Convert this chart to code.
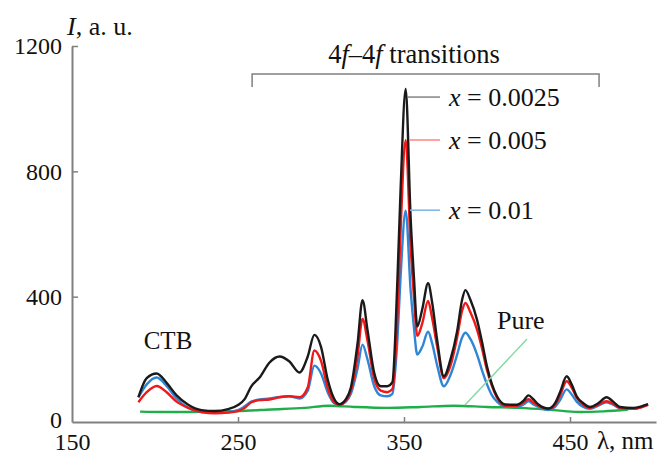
<!DOCTYPE html>
<html lang="en">
  <head>
    <meta charset="UTF-8" />
    <title>Luminescence excitation spectra</title>
    <script src="https://d3js.org/d3.v7.min.js"></script>
    <style>
      body {
        margin: 0;
        background: #fff;
      }
      svg text {
        font-family: "Liberation Serif", "Times New Roman", serif;
        fill: #111;
      }
    </style>
  </head>
  <body>
    <div id="chart"></div>
    <script>
      // wavelengths, nm (shared by the three doped samples)
      const wavelength = [
        190, 195, 201, 207, 213, 220, 228, 236, 244, 250, 254, 258, 263, 269,
        275, 281, 287, 292, 296, 300, 304, 308, 311, 315, 318, 322, 325, 328,
        332, 336, 340, 343, 346, 348, 351, 354, 356, 358, 361, 364.5, 367, 370,
        374, 378, 382, 385, 387, 390, 394, 397, 400, 403, 406, 411, 418, 422,
        425, 428, 431, 437, 441, 444, 448, 451, 454, 458, 462, 467, 472, 476,
        480, 488, 493, 497,
      ];
      const x0025 = [
        79, 140, 155, 125, 85, 55, 38, 35, 41, 54, 73, 114, 142, 190, 209, 193,
        158, 209, 278, 240, 136, 73, 57, 73, 110, 250, 389, 294, 158, 114, 114,
        127, 450, 750, 1063, 650, 460, 305, 360, 443, 380, 260, 146, 200, 290,
        390, 421, 390, 326, 255, 177, 120, 82, 56, 55, 68, 85, 72, 56, 43, 60,
        95, 146, 120, 82, 60, 48, 60, 79, 65, 48, 45, 50, 57,
      ];
      const x005 = [
        63, 95, 115, 95, 65, 45, 32, 28, 30, 35, 45, 63, 70, 72, 79, 82, 79, 110,
        228, 195, 110, 62, 55, 68, 100, 210, 329, 260, 140, 100, 95, 105, 330,
        620, 899, 560, 400, 275, 315, 386, 330, 240, 140, 180, 270, 355, 380,
        350, 295, 235, 165, 115, 78, 52, 52, 62, 73, 62, 52, 42, 55, 85, 130,
        110, 78, 55, 45, 55, 66, 58, 45, 42, 47, 55,
      ];
      const x01 = [
        79, 120, 142, 115, 75, 45, 32, 30, 32, 38, 50, 65, 72, 75, 80, 82, 75,
        100, 180, 155, 95, 60, 55, 65, 90, 170, 247, 200, 115, 85, 82, 90, 260,
        470, 674, 420, 300, 215, 240, 288, 250, 180, 114, 150, 215, 270, 285,
        265, 215, 165, 120, 85, 65, 50, 48, 56, 66, 56, 48, 38, 48, 70, 104, 88,
        65, 48, 42, 52, 63, 55, 44, 42, 48, 56,
      ];
      // undoped sample
      const pureWavelength = [
        191, 205, 220, 235, 250, 270, 290, 305, 320, 340, 360, 380, 400, 420,
        440, 455, 470, 485,
      ];
      const pure = [
        33, 32, 32, 33, 35, 40, 45, 52, 48, 45, 48, 52, 48, 45, 38, 32, 34, 40,
      ];
      const xTicks = [150, 250, 350, 450];
      const yTicks = [0, 400, 800, 1200];
      const legendLabels = ["0.0025", "0.005", "0.01"];
      // intensity level where each legend pointer sits
      const legendLevels = [1037, 900, 676];

      const width = 667,
        height = 454;
      const margin = { top: 46, right: 11, bottom: 32, left: 72 };
      const serif = '"Liberation Serif", "Times New Roman", serif';

      const svg = d3
        .select("#chart")
        .append("svg")
        .attr("width", width)
        .attr("height", height);

      const x = d3
        .scaleLinear()
        .domain([150, 501.8])
        .range([margin.left, width - margin.right]);
      const y = d3
        .scaleLinear()
        .domain([0, 1200])
        .range([height - margin.bottom, margin.top]);

      const axisColor = "#808080";

      // axes
      const gx = svg
        .append("g")
        .attr("transform", `translate(0,${y(0)})`)
        .call(
          d3
            .axisBottom(x)
            .tickValues(xTicks)
            .tickFormat(d3.format("d"))
            .tickSizeInner(-5)
            .tickSizeOuter(0)
            .tickPadding(11)
        );
      const gy = svg
        .append("g")
        .attr("transform", `translate(${x(150)},0)`)
        .call(
          d3
            .axisLeft(y)
            .tickValues(yTicks)
            .tickFormat(d3.format("d"))
            .tickSizeInner(-6)
            .tickSizeOuter(0)
            .tickPadding(10)
        );
      [gx, gy].forEach((g) => {
        g.attr("font-family", serif).attr("font-size", 24);
        g.select(".domain").attr("stroke", axisColor).attr("stroke-width", 2);
        g.selectAll(".tick line")
          .attr("stroke", axisColor)
          .attr("stroke-width", 1.5);
        g.selectAll(".tick text").attr("fill", "#111");
      });
      gy.select(".tick:first-of-type line").remove();
      gx.select(".tick:first-of-type line").remove();
      gy.select(".tick:first-of-type text").attr("dy", "0.22em");

      // spectra
      const line = (xs) =>
        d3
          .line()
          .x((d, i) => x(xs[i]))
          .y((d) => y(d))
          .curve(d3.curveMonotoneX);

      const series = [
        { values: pure, xs: pureWavelength, color: "#1fae4a" },
        { values: x01, xs: wavelength, color: "#2f86d6" },
        { values: x005, xs: wavelength, color: "#f01818" },
        { values: x0025, xs: wavelength, color: "#1a1a1a" },
      ];
      series.forEach((s) => {
        svg
          .append("path")
          .datum(s.values)
          .attr("fill", "none")
          .attr("stroke", s.color)
          .attr("stroke-width", 2.4)
          .attr("stroke-linejoin", "round")
          .attr("d", line(s.xs));
      });

      // legend pointers + labels
      const legendColors = ["#8c8c8c", "#ff8a8a", "#80b9e8"];
      const labelX = 449;
      legendLevels.forEach((lv, i) => {
        const py = y(lv);
        svg
          .append("line")
          .attr("x1", 408 + i * 1)
          .attr("x2", 440)
          .attr("y1", py)
          .attr("y2", py)
          .attr("stroke", legendColors[i])
          .attr("stroke-width", 1.6);
        const t = svg
          .append("text")
          .attr("x", labelX)
          .attr("y", py)
          .attr("dy", "0.33em")
          .style("font-size", "26px");
        t.append("tspan").style("font-style", "italic").text("x");
        t.append("tspan").text(" = " + legendLabels[i]);
      });

      // bracket for 4f-4f transitions
      svg
        .append("path")
        .attr("fill", "none")
        .attr("stroke", axisColor)
        .attr("stroke-width", 1.5)
        .attr("d", `M${x(258.5)},${87}V${74}H${x(467.5)}V${87}`);
      const tr = svg
        .append("text")
        .attr("x", 414)
        .attr("y", 63)
        .attr("text-anchor", "middle")
        .style("font-size", "26.5px");
      tr.append("tspan").text("4");
      tr.append("tspan").style("font-style", "italic").text("f");
      tr.append("tspan").text("–4");
      tr.append("tspan").style("font-style", "italic").text("f");
      tr.append("tspan").text(" transitions");

      // annotations
      svg
        .append("text")
        .attr("x", 168)
        .attr("y", 349)
        .attr("text-anchor", "middle")
        .style("font-size", "25px")
        .text("CTB");
      svg
        .append("text")
        .attr("x", 497)
        .attr("y", 329)
        .style("font-size", "26px")
        .text("Pure");
      svg
        .append("line")
        .attr("x1", 527)
        .attr("y1", 339)
        .attr("x2", 465)
        .attr("y2", 405)
        .attr("stroke", "#86d9a6")
        .attr("stroke-width", 1.5);

      // axis titles
      const yt = svg
        .append("text")
        .attr("x", 67)
        .attr("y", 35)
        .style("font-size", "26px");
      yt.append("tspan").style("font-style", "italic").text("I");
      yt.append("tspan").text(", a. u.");
      svg
        .append("text")
        .attr("x", 597)
        .attr("y", 449)
        .style("font-size", "25px")
        .text("λ, nm");
    </script>
  </body>
</html>
